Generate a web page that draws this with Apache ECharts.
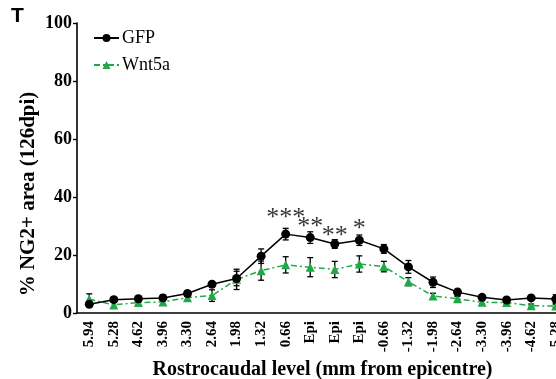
<!DOCTYPE html>
<html>
<head>
<meta charset="utf-8">
<script src="https://cdn.jsdelivr.net/npm/echarts@6/dist/echarts.min.js"></script>
<style>
  html, body { margin: 0; padding: 0; background: #fff; }
  #chart { width: 556px; height: 379px; }
</style>
</head>
<body>
<div id="chart"></div>
<script>
// rostrocaudal levels (mm from epicentre)
var levels = ['5.94', '5.28', '4.62', '3.96', '3.30', '2.64', '1.98', '1.32', '0.66',
  'Epi', 'Epi', 'Epi', '-0.66', '-1.32', '-1.98', '-2.64', '-3.30', '-3.96', '-4.62', '-5.28'];

var gfpMean = [3.0, 4.6, 4.9, 5.2, 6.7, 9.9, 11.9, 19.6, 27.2, 26.0, 23.8, 25.1, 22.1, 15.9, 10.6, 7.2, 5.4, 4.5, 5.2, 4.8];
var gfpErr = [0.6, 0.8, 0.8, 1.0, 1.0, 0.8, 2.5, 2.5, 2.0, 2.0, 1.5, 1.8, 1.5, 2.2, 1.8, 1.0, 0.7, 0.7, 0.8, 1.5];

var wntMean = [4.8, 2.8, 3.6, 3.8, 5.3, 6.0, 11.6, 14.6, 16.6, 15.8, 15.0, 16.9, 16.0, 10.8, 5.9, 4.9, 3.7, 3.6, 2.5, 2.4];
var wntErr = [1.8, 1.0, 0.8, 1.0, 1.0, 2.0, 3.5, 3.3, 2.8, 3.3, 2.8, 2.8, 1.8, 1.4, 0.9, 0.8, 0.6, 0.6, 0.6, 0.6];

// significance marks above GFP
var sigText = ['', '', '', '', '', '', '', '', '***', '**', '**', '*', '', '', '', '', '', '', '', ''];
var sigY = [0, 0, 0, 0, 0, 0, 0, 0, 32.8, 29.5, 26.4, 29.0, 0, 0, 0, 0, 0, 0, 0, 0];

var serif = '"Liberation Serif", "Times New Roman", serif';
var green = '#21a947';

function errData(mean, err) {
  return mean.map(function (m, i) { return [i, m - err[i], m + err[i]]; });
}

function errRender(color) {
  return function (params, api) {
    var lo = api.coord([api.value(0), api.value(1)]);
    var hi = api.coord([api.value(0), api.value(2)]);
    var w = 3;
    var style = { stroke: color, lineWidth: 1.3 };
    return {
      type: 'group',
      children: [
        { type: 'line', shape: { x1: lo[0], y1: lo[1], x2: hi[0], y2: hi[1] }, style: style },
        { type: 'line', shape: { x1: lo[0] - w, y1: lo[1], x2: lo[0] + w, y2: lo[1] }, style: style },
        { type: 'line', shape: { x1: hi[0] - w, y1: hi[1], x2: hi[0] + w, y2: hi[1] }, style: style }
      ]
    };
  };
}

var myChart = echarts.init(document.getElementById('chart'));

myChart.setOption({
  animation: false,
  grid: { left: 77, width: 491, top: 23, bottom: 66, outerBoundsMode: 'none', containLabel: false },
  legend: {
    orient: 'vertical',
    left: 88,
    top: 24,
    itemWidth: 25,
    itemHeight: 10,
    itemGap: 9,
    data: ['GFP', 'Wnt5a'],
    textStyle: { fontFamily: serif, fontSize: 18, color: '#000', padding: [0, 0, 0, -2] }
  },
  xAxis: {
    type: 'category',
    data: levels,
    boundaryGap: true,
    axisLine: { lineStyle: { color: '#000', width: 1.6 } },
    axisTick: { show: false },
    axisLabel: {
      rotate: 90,
      interval: 0,
      margin: 8,
      fontFamily: serif,
      fontWeight: 'bold',
      fontSize: 15,
      color: '#000'
    },
    name: 'Rostrocaudal level (mm from epicentre)',
    nameLocation: 'middle',
    nameGap: 44,
    nameTextStyle: { fontFamily: serif, fontWeight: 'bold', fontSize: 20, color: '#000' }
  },
  yAxis: {
    type: 'value',
    min: 0,
    max: 100,
    interval: 20,
    splitLine: { show: false },
    axisLine: { show: true, lineStyle: { color: '#000', width: 1.6 } },
    axisTick: { show: true, length: 4, lineStyle: { color: '#000', width: 1.4 } },
    axisLabel: { fontFamily: serif, fontWeight: 'bold', fontSize: 18, color: '#000', margin: 5 }
  },
  graphic: [
    {
      type: 'text',
      left: 11,
      top: 6,
      style: { text: 'T', font: 'bold 21px "Liberation Sans", Arial, sans-serif', fill: '#000' }
    },
    {
      type: 'text',
      x: 29,
      y: 194,
      rotation: Math.PI / 2,
      style: {
        text: '% NG2+ area (126dpi)',
        font: 'bold 21px ' + serif,
        fill: '#000',
        align: 'center',
        verticalAlign: 'middle'
      }
    }
  ],
  series: [
    {
      name: 'GFP-err',
      type: 'custom',
      renderItem: errRender('#000'),
      data: errData(gfpMean, gfpErr),
      z: 1
    },
    {
      name: 'Wnt5a-err',
      type: 'custom',
      renderItem: errRender('#000'),
      data: errData(wntMean, wntErr),
      z: 1
    },
    {
      name: 'GFP',
      type: 'line',
      data: gfpMean,
      symbol: 'circle',
      symbolSize: 9,
      itemStyle: { color: '#000' },
      lineStyle: { color: '#000', width: 1.5 },
      z: 3
    },
    {
      name: 'Wnt5a',
      type: 'line',
      data: wntMean,
      symbol: 'triangle',
      symbolSize: 9,
      itemStyle: { color: green },
      lineStyle: { color: green, width: 1.5, type: [6, 3, 2, 3] },
      z: 2
    },
    {
      name: 'sig',
      type: 'scatter',
      symbolSize: 0,
      silent: true,
      data: sigY.map(function (y, i) { return { value: [i, y], label: { formatter: sigText[i] } }; }),
      label: {
        show: true,
        position: 'inside',
        fontFamily: serif,
        fontSize: 26,
        color: '#000'
      },
      z: 4
    }
  ]
});
</script>
</body>
</html>
